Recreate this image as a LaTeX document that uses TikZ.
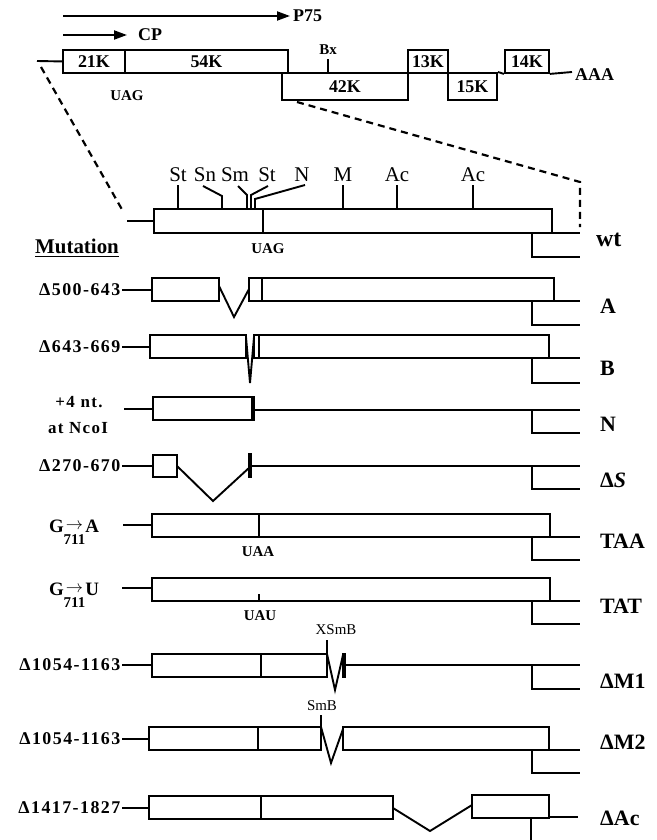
\documentclass[tikz,border=0pt]{standalone}
\usepackage{amsmath}
\usepackage{fontspec}
\setmainfont{Liberation Serif}
\newfontfamily\spacedfont[LetterSpace=8]{Liberation Serif}
\usetikzlibrary{arrows.meta}
\newcommand{\pts}[1]{\fontsize{#1}{#1}\selectfont}

\begin{document}
\begin{tikzpicture}[x=1bp, y=-1bp,
    gene/.style={line width=1.9bp},
    cutbar/.style={line width=3.8bp},
    zoomline/.style={line width=2.2bp, dash pattern=on 7bp off 5bp},
    kbox/.style={draw, line width=1.9bp, minimum height=23bp, inner sep=0pt, font=\bfseries\pts{18}, anchor=north west},
    site/.style={font=\pts{21}, inner sep=0pt},
    codon/.style={font=\bfseries\pts{15}, inner sep=0pt},
    mut/.style={font=\spacedfont\bfseries\pts{18}, anchor=east, inner sep=1.5bp},
    rowname/.style={font=\bfseries\pts{22}, anchor=west, inner sep=0pt},
    enz/.style={font=\pts{15}, inner sep=0pt},
    tip/.style={-{Triangle[length=13bp,width=9bp]}}
  ]
  \useasboundingbox (0,0) rectangle (657,840);

  % reading frames
  \coordinate (p75from) at (63,16);
  \coordinate (cpfrom) at (63,35);
  \node[font=\bfseries\pts{18}, anchor=west, inner sep=0pt] (p75) at (293,16) {P75};
  \node[font=\bfseries\pts{18}, anchor=west, inner sep=0pt] (cp) at (138,35) {CP};
  \draw[gene, tip] (p75from) -- ([xshift=-3bp]p75.west);
  \draw[gene, tip] (cpfrom) -- ([xshift=-11bp]cp.west);

  % genome
  \node[kbox, minimum width=62bp] (k21) at (62,49) {21K};
  \node[kbox, minimum width=163bp] (k54) at (124,49) {54K};
  \node[kbox, minimum width=126bp, minimum height=27bp] (k42) at (281,72) {42K};
  \node[kbox, minimum width=40bp] (k13) at (407,49) {13K};
  \node[kbox, minimum width=49bp, minimum height=27bp] (k15) at (447,72) {15K};
  \node[kbox, minimum width=44bp] (k14) at (504,49) {14K};
  \node[font=\bfseries\pts{18}, anchor=west, inner sep=0pt] (polya) at (575,75) {AAA};
  \node[font=\bfseries\pts{15}, inner sep=0pt] (bx) at (328,50) {Bx};
  \node[codon] (uagtop) at (127,96) {UAG};
  \draw[gene] (37,61) -- (k21.west);
  \draw[gene] ([yshift=-4bp]bx.south) -- (328,72);
  \draw[gene] (k15.north east) -- (k14.south west);
  \draw[gene] (k14.south east) -- (572,72);

  % zoom lines
  \draw[zoomline] (41,67) -- (124,213);
  \draw[zoomline] (297,102) -- (580,182) -- (580,227);

  % wild type
  \draw[gene] (127,221) -- (154,221);
  \draw[gene] (154,209) rectangle (552,233);
  \draw[gene] (263,209) -- (263,233);
  \foreach \x/\t in {178/St, 343/M, 397/Ac, 473/Ac} {
    \node[site] (s\x) at (\x,175) {\t};
    \draw[gene] (\x,185) -- (\x,209);
  }
  \node[site] (sn) at (205,175) {Sn};
  \node[site] (sm) at (235,175) {Sm};
  \node[site] (st) at (267,175) {St};
  \node[site] (nc) at (302,175) {N};
  \draw[gene] (203,186) -- (222,196) -- (222,209);
  \draw[gene] (238,186) -- (247,195) -- (247,209);
  \draw[gene] (268,186) -- (251,195) -- (251,209);
  \draw[gene] (305,185) -- (255,199) -- (255,209);
  \node[codon] (uag) at (268,249) {UAG};
  \node[font=\bfseries\pts{21}] (mutation) at (77,248) {\underline{Mutation}};
  \node[font=\bfseries\pts{24}, anchor=west, inner sep=0pt] (wt) at (596,240) {wt};

  % mutants, left labels
  \foreach \y/\e/\t in {290/152/Δ500-643, 347/150/Δ643-669, 466/153/Δ270-670,
                        665/152/Δ1054-1163, 739/149/Δ1054-1163, 808/149/Δ1417-1827} {
    \node[mut] (m\y) at (122,\y) {\t};
    \draw[gene] (m\y.east) -- (\e,\y);
  }
  \node[font=\spacedfont\bfseries\pts{17}, inner sep=0pt] (plusfour) at (79,402) {+4 nt.};
  \node[font=\spacedfont\bfseries\pts{17}, inner sep=0pt] (atnco) at (78,428) {at NcoI};
  \node[font=\bfseries\pts{19}, anchor=base, inner sep=0pt] (ga) at (74,532)
    {G$\underset{\text{\bfseries\pts{15}711}}{\raisebox{3bp}{$\rightarrow$}}$A};
  \node[font=\bfseries\pts{19}, anchor=base, inner sep=0pt] (gu) at (74,595)
    {G$\underset{\text{\bfseries\pts{15}711}}{\raisebox{3bp}{$\rightarrow$}}$U};
  \draw[gene] (124,409) -- (153,409);
  \draw[gene] (123,525) -- (152,525);
  \draw[gene] (122,588) -- (152,588);

  % A
  \draw[gene] (152,278) rectangle (219,301);
  \draw[gene] (219,286) -- (234,317) -- (249,289);
  \draw[gene] (249,278) rectangle (554,301);
  \draw[gene] (262,278) -- (262,301);
  % B
  \draw[gene] (150,335) rectangle (246,358);
  \draw[gene] (246,337) -- (250,383) -- (254,337);
  \draw[gene] (254,335) rectangle (549,358);
  \draw[gene] (259,335) -- (259,358);
  % N
  \draw[gene] (253,420) -- (153,420) -- (153,397) -- (253,397);
  \draw[cutbar] (253,396) -- (253,421);
  % delta S
  \draw[gene] (153,455) rectangle (177,477);
  \draw[gene] (177,466) -- (213,501) -- (250,467);
  \draw[cutbar] (250,453) -- (250,478);
  % TAA
  \draw[gene] (152,514) rectangle (550,537);
  \draw[gene] (259,514) -- (259,537);
  \node[codon] (uaa) at (258,552) {UAA};
  % TAT
  \draw[gene] (152,578) rectangle (550,601);
  \draw[gene] (259,594) -- (259,601);
  \node[codon] (uau) at (260,616) {UAU};
  % delta M1
  \node[enz] (xsmb) at (336,630) {XSmB};
  \draw[gene] (152,654) rectangle (327,677);
  \draw[gene] (261,654) -- (261,677);
  \draw[gene] (327,640) -- (327,654) -- (335,690) -- (343,655);
  \draw[cutbar] (344,653) -- (344,678);
  % delta M2
  \node[enz] (smb) at (322,706) {SmB};
  \draw[gene] (149,727) rectangle (321,750);
  \draw[gene] (258,727) -- (258,750);
  \draw[gene] (321,715) -- (321,727) -- (331,763) -- (343,729);
  \draw[gene] (343,727) rectangle (549,750);
  % delta Ac
  \draw[gene] (149,796) rectangle (393,819);
  \draw[gene] (261,796) -- (261,819);
  \draw[gene] (393,808) -- (430,831) -- (472,805);
  \draw[gene] (472,795) rectangle (549,818);
  \draw[gene] (549,817) -- (578,817);
  \draw[gene] (531,818) -- (531,840);

  % 3' ends
  \foreach \bx/\by/\ly in {552/233/257, 554/301/325, 549/358/383, 253/410/433, 250/466/489,
                           550/537/560, 550/601/624, 344/665/689, 549/750/773} {
    \draw[gene] (\bx,\by) -- (580,\by) (532,\by) |- (580,\ly);
  }

  % row names
  \foreach \y/\t in {306/A, 368/B, 424/N, 480/{Δ\textit{S}}, 541/TAA, 606/TAT,
                     681/ΔM1, 742/ΔM2, 818/ΔAc} {
    \node[rowname] (r\y) at (600,\y) {\t};
  }
\end{tikzpicture}
\end{document}
